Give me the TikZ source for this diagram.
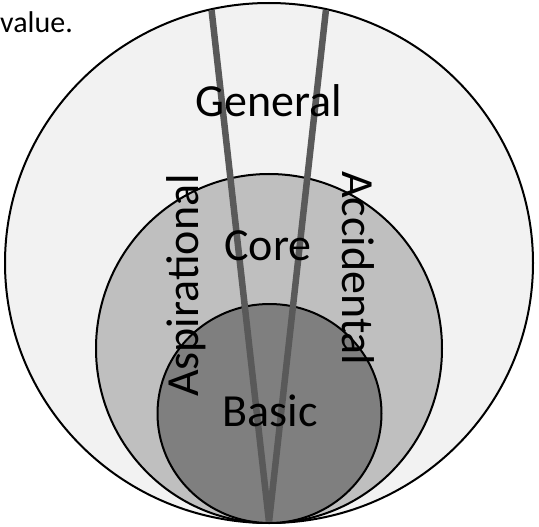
\documentclass[tikz,border=0pt]{standalone}
\usepackage{fontspec}
\setmainfont{Carlito}
\usetikzlibrary{calc}
\definecolor{outerfill}{HTML}{F2F2F2}
\definecolor{midfill}{HTML}{BFBFBF}
\definecolor{innerfill}{HTML}{7F7F7F}
\definecolor{raygray}{HTML}{595959}
\begin{document}
\begin{tikzpicture}[x=1pt,y=-1pt,
  ring/.style={draw=black, line width=2pt},
  ray/.style={draw=raygray, line width=6.5pt},
  lbl/.style={font=\fontsize{46}{55}\selectfont, inner sep=0pt, text=black},
  smalllbl/.style={font=\fontsize{30}{36}\selectfont, inner sep=0pt, text=black}]
\useasboundingbox (0,0) rectangle (539,527);
\fill[white] (0,0) rectangle (539,527);
% circles
\draw[ring, fill=outerfill] (269,263) ellipse [x radius=264, y radius=260];
\draw[ring, fill=midfill] (269,348.5) ellipse [x radius=173, y radius=174.5];
\draw[ring, fill=innerfill] (269.5,413.5) ellipse [x radius=112, y radius=109.5];
% rays
\coordinate (tip) at (269,522);
\coordinate (la) at (211.5,9.5);
\coordinate (ra) at (326,9.5);
\begin{scope}
  \clip (269,263) ellipse [x radius=263, y radius=259];
  \draw[ray] (tip) -- ($(tip)!1.08!(la)$);
  \draw[ray] (tip) -- ($(tip)!1.08!(ra)$);
\end{scope}
% labels
\node[lbl, anchor=base] (general) at (268.5,116.7) {General};
\node[lbl, anchor=base] (core) at (268,260) {Core};
\node[lbl, anchor=base] (basic) at (270,426.7) {Basic};
\node[lbl, anchor=base, rotate=90] (asp) at (198.3,285.5) {Aspirational};
\node[lbl, anchor=base, rotate=-90] (acc) at (342.7,268.3) {Accidental};
\node[smalllbl, anchor=base west] (value) at (0,32.3) {value.};
\end{tikzpicture}
\end{document}
